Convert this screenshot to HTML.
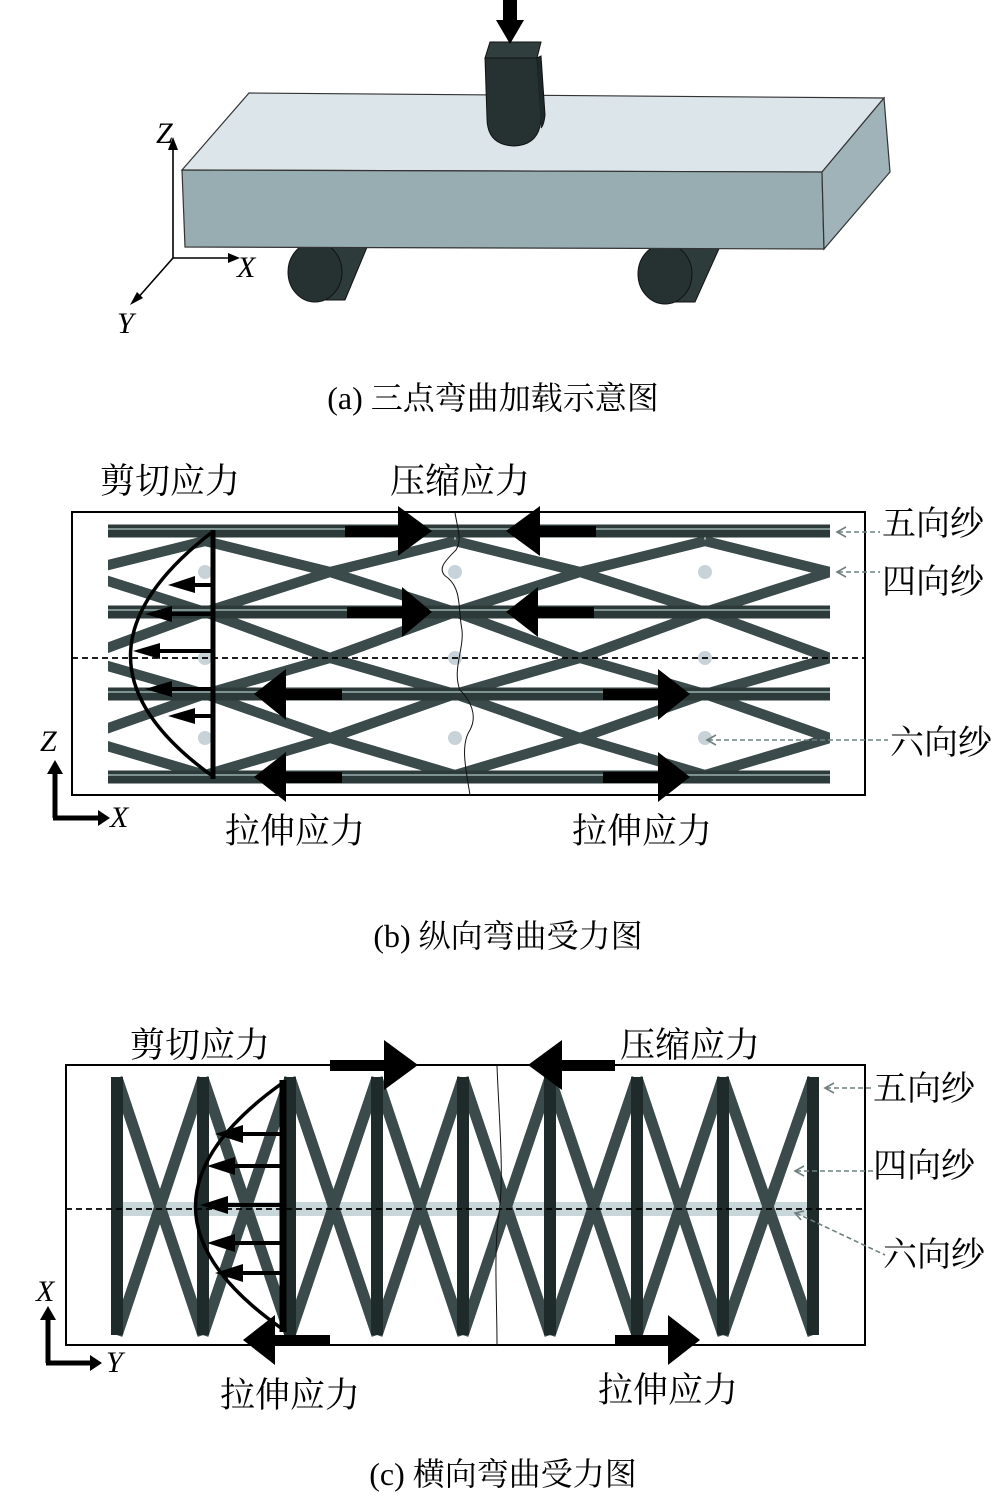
<!DOCTYPE html>
<html><head><meta charset="utf-8"><style>
html,body{margin:0;padding:0;background:#fff;}
svg{display:block;}
text{font-family:"Liberation Serif","Noto Serif CJK SC","Noto Sans CJK SC",serif;fill:#000;}
.it{font-style:italic;}
</style></head><body>
<svg width="1000" height="1499" viewBox="0 0 1000 1499" xmlns="http://www.w3.org/2000/svg">
<defs>
<clipPath id="cb"><rect x="108" y="520" width="722" height="270"/></clipPath>
</defs>
<!-- ===== Panel (a) ===== -->
<g stroke="#111" stroke-width="1">
<polygon points="300,255 322,240 370,240 345,300 315,300" fill="#2e3b3b"/>
<ellipse cx="315" cy="272" rx="27" ry="30" fill="#263232"/>
<polygon points="650,258 672,242 722,242 695,302 665,302" fill="#2e3b3b"/>
<ellipse cx="665" cy="274" rx="27" ry="30" fill="#263232"/>
</g>
<polygon points="182,170 249,93 884,98 822,172" fill="#dbe5ea" stroke="#333" stroke-width="1.2"/>
<polygon points="182,170 822,172 824,249 185,247" fill="#97adb2" stroke="#333" stroke-width="1.2"/>
<polygon points="822,172 884,98 890,172 824,249" fill="#9fb3b8" stroke="#333" stroke-width="1.2"/>
<!-- loader -->
<path d="M485,58 L537,58 L541,118 Q540,145 514,146 Q487,145 487,118 Z" fill="#263232" stroke="#111"/>
<path d="M537,58 L541,56 L545,115 Q544,125 541,128" fill="#1e2828" stroke="#111"/>
<path d="M485,58 L537,58 L541,42 L490,42 Z" fill="#303e3e" stroke="#111"/>
<rect x="503" y="0" width="14" height="22" fill="#000"/>
<polygon points="496,20 524,20 510,44" fill="#000"/>
<!-- axes a -->
<g stroke="#000" stroke-width="1.6" fill="none">
<line x1="173" y1="258" x2="173" y2="145"/>
<line x1="173" y1="258" x2="230" y2="258"/>
<line x1="173" y1="258" x2="136" y2="300"/>
</g>
<polygon points="168,150 173,137 178,150" fill="#000"/>
<polygon points="228,253 240,258 228,263" fill="#000"/>
<polygon points="137,292 130,305 143,298" fill="#000"/>
<text x="156" y="143" font-size="30" class="it">Z</text>
<text x="237" y="277" font-size="30" class="it">X</text>
<text x="117" y="333" font-size="30" class="it">Y</text>
<text x="493" y="409" font-size="32" text-anchor="middle">(a) 三点弯曲加载示意图</text>

<!-- ===== Panel (b) ===== -->
<rect x="72" y="512" width="793" height="283" fill="none" stroke="#000" stroke-width="2"/>
<g clip-path="url(#cb)">
<path id="lat" d="
M80,572 L205,541 M80,572 L205,612 M80,658 L205,612 M80,658 L205,694 M80,738 L205,694 M80,738 L205,775
M330,572 L205,541 M330,572 L205,612 M330,658 L205,612 M330,658 L205,694 M330,738 L205,694 M330,738 L205,775
M330,572 L455,541 M330,572 L455,612 M330,658 L455,612 M330,658 L455,694 M330,738 L455,694 M330,738 L455,775
M580,572 L455,541 M580,572 L455,612 M580,658 L455,612 M580,658 L455,694 M580,738 L455,694 M580,738 L455,775
M580,572 L705,541 M580,572 L705,612 M580,658 L705,612 M580,658 L705,694 M580,738 L705,694 M580,738 L705,775
M830,572 L705,541 M830,572 L705,612 M830,658 L705,612 M830,658 L705,694 M830,738 L705,694 M830,738 L705,775"
fill="none" stroke="#3b4b4b" stroke-width="10" stroke-linecap="butt"/>
<use href="#lat" stroke="#627575" stroke-width="2"/>
</g>
<g fill="#c7d3d9">
<circle cx="205" cy="572" r="7"/><circle cx="455" cy="572" r="7"/><circle cx="705" cy="572" r="7"/>
<circle cx="205" cy="658" r="7"/><circle cx="455" cy="658" r="7"/><circle cx="705" cy="658" r="7"/>
<circle cx="205" cy="738" r="7"/><circle cx="455" cy="738" r="7"/><circle cx="705" cy="738" r="7"/>
</g>
<g stroke="#2c3a3a" stroke-width="13">
<line x1="108" y1="531" x2="830" y2="531"/><line x1="108" y1="612" x2="830" y2="612"/>
<line x1="108" y1="694" x2="830" y2="694"/><line x1="108" y1="777" x2="830" y2="777"/>
</g>
<g stroke="#7e9292" stroke-width="2">
<line x1="108" y1="529" x2="830" y2="529"/><line x1="108" y1="610" x2="830" y2="610"/>
<line x1="108" y1="692" x2="830" y2="692"/><line x1="108" y1="775" x2="830" y2="775"/>
</g>
<line x1="72" y1="658" x2="865" y2="658" stroke="#000" stroke-width="1.8" stroke-dasharray="6,4"/>
<path d="M455,513 C458,530 462,540 456,550 C446,560 435,570 448,578 C462,590 458,610 462,630 C464,650 452,670 460,690 C470,700 478,715 470,730 C460,745 466,770 470,795" fill="none" stroke="#111" stroke-width="1"/>
<g fill="#000">
<rect x="345" y="526" width="60" height="11"/><polygon points="398,506 432,531 398,556"/>
<rect x="536" y="526" width="60" height="11"/><polygon points="540,506 506,531 540,556"/>
<rect x="347" y="607" width="60" height="11"/><polygon points="402,587 432,612 402,637"/>
<rect x="536" y="607" width="58" height="11"/><polygon points="538,587 506,612 538,637"/>
<rect x="282" y="689" width="60" height="11"/><polygon points="286,669 254,694 286,720"/>
<rect x="603" y="689" width="60" height="11"/><polygon points="658,669 690,694 658,720"/>
<rect x="282" y="772" width="60" height="11"/><polygon points="286,752 254,777 286,802"/>
<rect x="603" y="772" width="60" height="11"/><polygon points="658,752 690,777 658,802"/>
</g>
<line x1="213" y1="530" x2="213" y2="779" stroke="#000" stroke-width="5"/>
<path d="M211,533 Q50,658 211,775" fill="none" stroke="#000" stroke-width="3.5"/>
<g stroke="#000" stroke-width="4">
<line x1="180" y1="585" x2="211" y2="585"/><line x1="165" y1="614" x2="211" y2="614"/>
<line x1="150" y1="651" x2="211" y2="651"/><line x1="158" y1="689" x2="211" y2="689"/>
<line x1="180" y1="716" x2="211" y2="716"/>
</g>
<g fill="#000">
<polygon points="195,576 168,585 195,593"/><polygon points="172,606 145,614 172,622"/>
<polygon points="160,643 133,651 160,659"/><polygon points="172,681 145,689 172,697"/>
<polygon points="195,708 168,716 195,724"/>
</g>
<g stroke="#6f8080" stroke-width="1.6" stroke-dasharray="5,3" fill="none">
<line x1="838" y1="532" x2="880" y2="532"/><line x1="838" y1="572" x2="880" y2="572"/>
<line x1="708" y1="740" x2="888" y2="740"/>
</g>
<g fill="none" stroke="#6f8080" stroke-width="1.6">
<polyline points="846,527 837,532 846,537"/><polyline points="846,567 837,572 846,577"/>
<polyline points="716,735 707,740 716,745"/>
</g>
<text x="100" y="493" font-size="35">剪切应力</text>
<text x="390" y="493" font-size="35">压缩应力</text>
<text x="882" y="535" font-size="34">五向纱</text>
<text x="882" y="593" font-size="34">四向纱</text>
<text x="890" y="754" font-size="34">六向纱</text>
<text x="225" y="843" font-size="35">拉伸应力</text>
<text x="572" y="843" font-size="35">拉伸应力</text>
<path d="M55,818 L55,772 M53,818 L100,818" stroke="#000" stroke-width="5" fill="none"/>
<polygon points="47,774 55,760 63,774" fill="#000"/>
<polygon points="98,810 110,818 98,826" fill="#000"/>
<text x="40" y="751" font-size="30" class="it">Z</text>
<text x="110" y="827" font-size="30" class="it">X</text>
<text x="508" y="947" font-size="32" text-anchor="middle">(b) 纵向弯曲受力图</text>

<!-- ===== Panel (c) ===== -->
<rect x="66" y="1065" width="799" height="280" fill="none" stroke="#000" stroke-width="2"/>
<rect x="120" y="1202" width="690" height="14" fill="#c9d6da"/>
<path id="xs" d="
M117,1078 L203,1335 M203,1078 L117,1335
M203,1078 L290,1335 M290,1078 L203,1335
M290,1078 L377,1335 M377,1078 L290,1335
M377,1078 L463,1335 M463,1078 L377,1335
M463,1078 L550,1335 M550,1078 L463,1335
M550,1078 L637,1335 M637,1078 L550,1335
M637,1078 L723,1335 M723,1078 L637,1335
M723,1078 L813,1335 M813,1078 L723,1335" fill="none" stroke="#3b4b4b" stroke-width="11"/>
<use href="#xs" stroke="#6a7e7e" stroke-width="2"/>
<g stroke="#1f2b2b" stroke-width="12">
<line x1="117" y1="1077" x2="117" y2="1335"/><line x1="203" y1="1077" x2="203" y2="1335"/>
<line x1="290" y1="1077" x2="290" y2="1335"/><line x1="377" y1="1077" x2="377" y2="1335"/>
<line x1="463" y1="1077" x2="463" y2="1335"/><line x1="550" y1="1077" x2="550" y2="1335"/>
<line x1="637" y1="1077" x2="637" y2="1335"/><line x1="723" y1="1077" x2="723" y2="1335"/>
<line x1="813" y1="1077" x2="813" y2="1335"/>
</g>
<line x1="66" y1="1209" x2="865" y2="1209" stroke="#000" stroke-width="1.8" stroke-dasharray="6,4"/>
<path d="M497,1066 C499,1120 505,1180 498,1220 C494,1260 497,1300 497,1345" fill="none" stroke="#111" stroke-width="1"/>
<g fill="#000">
<rect x="330" y="1060" width="60" height="11"/><polygon points="384,1040 418,1065 384,1090"/>
<rect x="555" y="1060" width="60" height="11"/><polygon points="562,1040 528,1065 562,1090"/>
<rect x="270" y="1335" width="60" height="11"/><polygon points="275,1315 243,1340 275,1365"/>
<rect x="615" y="1335" width="60" height="11"/><polygon points="668,1315 700,1340 668,1365"/>
</g>
<line x1="283" y1="1080" x2="283" y2="1332" stroke="#000" stroke-width="7"/>
<path d="M281,1084 Q110,1207 281,1328" fill="none" stroke="#000" stroke-width="3.5"/>
<g stroke="#000" stroke-width="4">
<line x1="230" y1="1134" x2="280" y2="1134"/><line x1="215" y1="1166" x2="280" y2="1166"/>
<line x1="210" y1="1205" x2="280" y2="1205"/><line x1="215" y1="1243" x2="280" y2="1243"/>
<line x1="230" y1="1273" x2="280" y2="1273"/>
</g>
<g fill="#000">
<polygon points="243,1125 215,1134 243,1143"/><polygon points="235,1157 207,1166 235,1175"/>
<polygon points="228,1196 200,1205 228,1214"/><polygon points="235,1234 207,1243 235,1252"/>
<polygon points="243,1264 215,1273 243,1282"/>
</g>
<g stroke="#6f8080" stroke-width="1.6" stroke-dasharray="5,3" fill="none">
<line x1="826" y1="1088" x2="874" y2="1088"/><line x1="796" y1="1171" x2="874" y2="1171"/>
<line x1="796" y1="1213" x2="885" y2="1255"/>
</g>
<g fill="none" stroke="#6f8080" stroke-width="1.6">
<polyline points="834,1083 825,1088 834,1093"/><polyline points="804,1166 795,1171 804,1176"/>
<polyline points="804,1211 795,1213 801,1220"/>
</g>
<text x="130" y="1057" font-size="35">剪切应力</text>
<text x="620" y="1057" font-size="35">压缩应力</text>
<text x="873" y="1100" font-size="34">五向纱</text>
<text x="873" y="1177" font-size="34">四向纱</text>
<text x="883" y="1266" font-size="34">六向纱</text>
<text x="220" y="1407" font-size="35">拉伸应力</text>
<text x="598" y="1402" font-size="35">拉伸应力</text>
<path d="M48,1363 L48,1318 M46,1363 L92,1363" stroke="#000" stroke-width="5" fill="none"/>
<polygon points="40,1320 48,1306 56,1320" fill="#000"/>
<polygon points="90,1355 102,1363 90,1371" fill="#000"/>
<text x="36" y="1301" font-size="30" class="it">X</text>
<text x="106" y="1372" font-size="30" class="it">Y</text>
<text x="503" y="1485" font-size="32" text-anchor="middle">(c) 横向弯曲受力图</text>
</svg>
</body></html>
